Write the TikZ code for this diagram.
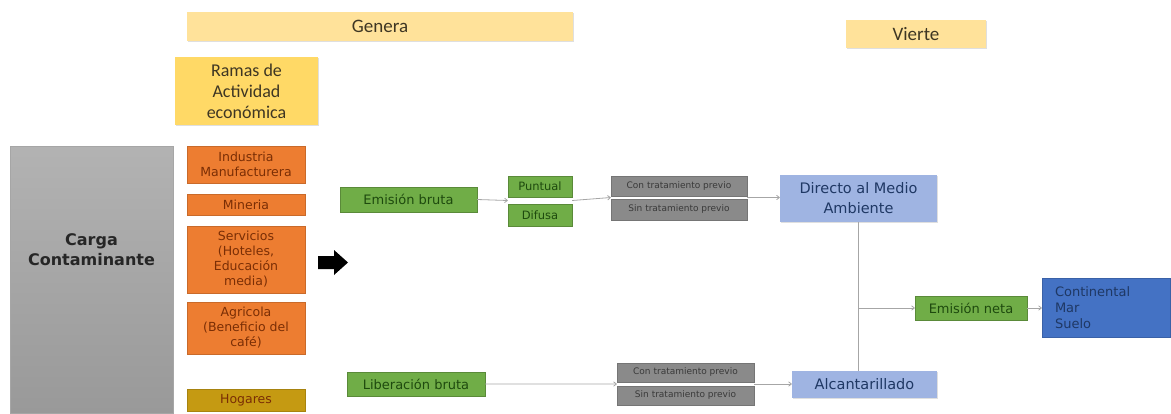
\documentclass[tikz,border=0pt]{standalone}
\usepackage{fontspec}
\setmainfont{DejaVu Sans}
\newfontfamily\headfont{Carlito}
\usetikzlibrary{arrows.meta,shadows,calc}

\definecolor{headyellow}{HTML}{FFE29A}
\definecolor{ramayellow}{HTML}{FFD966}
\definecolor{headtext}{HTML}{3E3623}
\definecolor{branchorange}{HTML}{ED7D31}
\definecolor{branchtext}{HTML}{7A2E05}
\definecolor{homegold}{HTML}{C59A12}
\definecolor{flowgreen}{HTML}{70AD47}
\definecolor{greentext}{HTML}{1E4A0E}
\definecolor{treatgray}{HTML}{8A8A8A}
\definecolor{treattext}{HTML}{3A3A3A}
\definecolor{lavender}{HTML}{9FB4E2}
\definecolor{navytext}{HTML}{1F3864}
\definecolor{deepblue}{HTML}{4472C4}
\definecolor{linkgray}{HTML}{A6A6A6}

\tikzset{
  x=1pt, y=-1pt,
  box/.style={rectangle, inner sep=1pt, align=center,
    drop shadow={shadow xshift=1pt, shadow yshift=-1pt, opacity=0.25}},
  headbox/.style={box, fill=headyellow, font=\headfont\fontsize{19}{21}\selectfont, text=headtext},
  ramabox/.style={box, fill=ramayellow, font=\headfont\fontsize{18}{21}\selectfont, text=headtext},
  branch/.style={box, fill=branchorange, draw=branchorange!85!black, line width=0.4pt,
    minimum width=118pt, text=branchtext, font=\fontsize{12.5}{15}\selectfont},
  flowbox/.style={box, fill=flowgreen, draw=flowgreen!80!black, line width=0.4pt,
    text=greentext, font=\fontsize{13}{15}\selectfont},
  treat/.style={box, fill=treatgray, draw=treatgray!85!black, line width=0.4pt,
    minimum width=136pt, text=treattext, font=\fontsize{9}{10}\selectfont},
  destbox/.style={box, fill=lavender, text=navytext, font=\fontsize{14.5}{20}\selectfont},
  link/.style={draw=linkgray, line width=0.8pt, -{To[length=3.5pt,width=5pt]}},
  plainlink/.style={draw=linkgray, line width=0.8pt}
}

\begin{document}
\begin{tikzpicture}
\useasboundingbox (0,0) rectangle (1171,413);

% header boxes
\node[headbox, minimum width=386pt, minimum height=29pt] (genera) at (380,26.5) {Genera};
\node[headbox, minimum width=140pt, minimum height=28pt] (vierte) at (916,34) {Vierte};
\node[ramabox, minimum width=143pt, minimum height=68pt] (ramas) at (246.5,91)
  {Ramas de\\Actividad\\económica};

% pollutant load column
\node[rectangle, minimum width=163pt, minimum height=267pt, top color=black!30,
  bottom color=black!40, draw=black!35, line width=0.3pt] (carga) at (91.5,279.5) {};
\node[font=\bfseries\fontsize{16}{20}\selectfont, text=black!85, align=center]
  (cargatext) at (91.5,250) {Carga\\Contaminante};

% economic branches
\node[branch, minimum height=37pt] (industria) at (246,164.5) {Industria\\Manufacturera};
\node[branch, minimum height=21pt] (mineria) at (246,204.5) {Mineria};
\node[branch, minimum height=67pt] (servicios) at (246,259.5)
  {Servicios\\(Hoteles,\\Educación\\media)};
\node[branch, minimum height=52pt] (agricola) at (246,328) {Agricola\\(Beneficio del\\café)};
\node[branch, fill=homegold, draw=homegold!85!black, minimum height=22pt] (hogares)
  at (246,400) {Hogares};

% big black arrow
\fill[black] (318,256) -- (334,256) -- (334,250) -- (348,262.5) -- (334,275)
  -- (334,269) -- (318,269) -- cycle;

% upper flow
\node[flowbox, minimum width=137pt, minimum height=25pt] (ebruta) at (408.5,199.5) {Emisión bruta};
\node[flowbox, minimum width=64pt, minimum height=21pt, font=\fontsize{11.5}{13}\selectfont]
  (puntual) at (540,186.5) {Puntual};
\node[flowbox, minimum width=64pt, minimum height=22pt, font=\fontsize{11.5}{13}\selectfont]
  (difusa) at (540,215) {Difusa};
\node[treat, minimum height=20pt] (con1) at (679,186) {Con tratamiento previo};
\node[treat, minimum height=21pt] (sin1) at (679,209.5) {Sin tratamiento previo};
\node[destbox, minimum width=157pt, minimum height=47pt] (directo) at (858.5,198.5)
  {Directo al Medio\\Ambiente};

% lower flow
\node[flowbox, minimum width=138pt, minimum height=24pt] (lbruta) at (416,384) {Liberación bruta};
\node[treat, minimum width=137pt, minimum height=19pt] (con2) at (685.5,372.5) {Con tratamiento previo};
\node[treat, minimum width=137pt, minimum height=19pt] (sin2) at (685.5,395.5) {Sin tratamiento previo};
\node[destbox, minimum width=145pt, minimum height=27pt] (alcant) at (864.5,384.5) {Alcantarillado};

% outlet
\node[flowbox, minimum width=112pt, minimum height=24pt] (eneta) at (971,308) {Emisión neta};
\node[box, fill=deepblue, draw=deepblue!85!black, line width=0.4pt, minimum width=128pt,
  minimum height=59pt, text=navytext, align=left, font=\fontsize{13}{16}\selectfont,
  text width=102pt] (destino) at (1106,307.5) {Continental\\Mar\\Suelo};

% connection points between stacked boxes
\coordinate (pdR) at ($(puntual.south east)!0.5!(difusa.north east)$);
\coordinate (pdL) at ($(puntual.south west)!0.5!(difusa.north west)$);
\coordinate (t1L) at ($(con1.south west)!0.5!(sin1.north west)$);
\coordinate (t1R) at ($(con1.south east)!0.5!(sin1.north east)$);
\coordinate (t2L) at ($(con2.south west)!0.5!(sin2.north west)$);
\coordinate (t2R) at ($(con2.south east)!0.5!(sin2.north east)$);
\coordinate (junction) at (directo.south |- eneta.west);

% connectors
\draw[link] (ebruta.east) -- (pdL);
\draw[link] (pdR) -- (t1L);
\draw[link] (t1R) -- (directo.west |- t1R);
\draw[link] (lbruta.east) -- (t2L);
\draw[link] (t2R) -- (alcant.west |- t2R);
\draw[plainlink] (directo.south) -- (directo.south |- alcant.north);
\draw[link] (junction) -- (eneta.west);
\draw[link] (eneta.east) -- (destino.west |- eneta.east);
\end{tikzpicture}
\end{document}
